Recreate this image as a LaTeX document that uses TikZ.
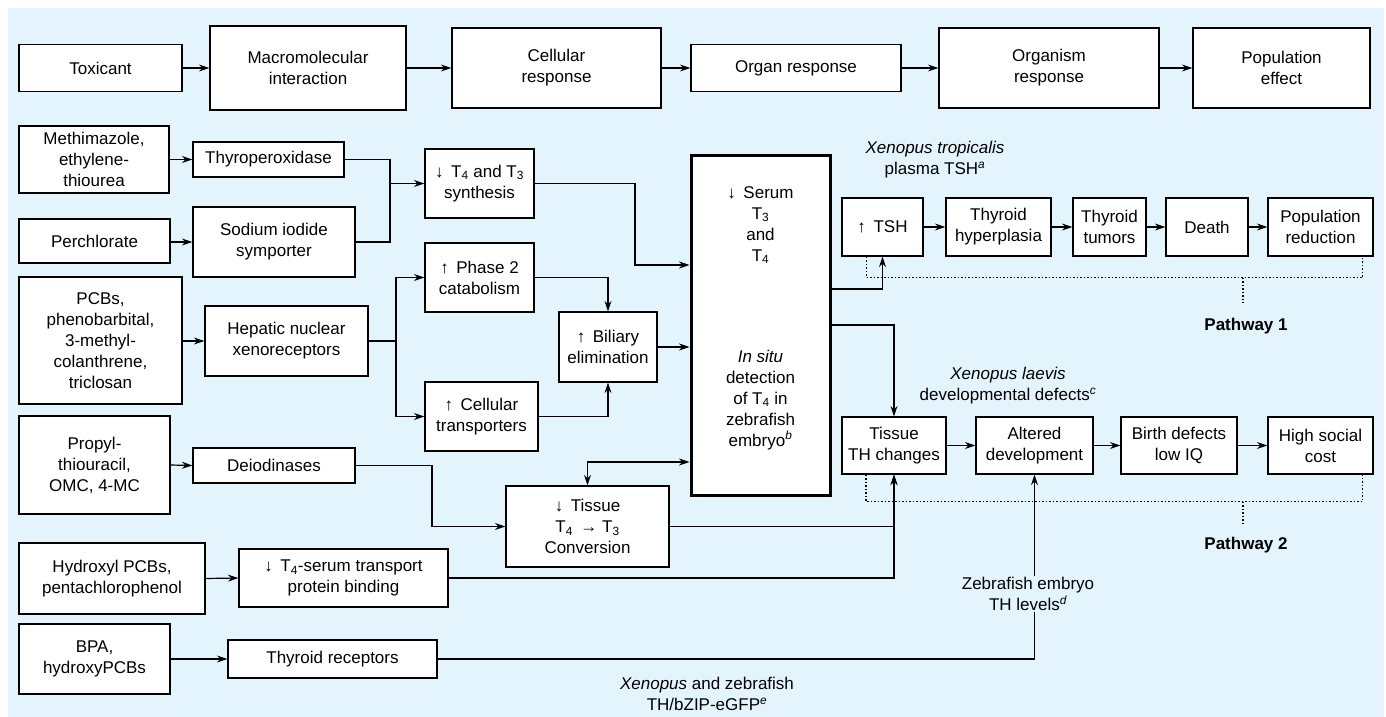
\documentclass[tikz,border=0pt]{standalone}
\usepackage{fontspec}
\setmainfont{Liberation Sans}
\usetikzlibrary{arrows.meta}
\definecolor{bgblue}{HTML}{E4F4FC}
\newcommand{\Tn}[1]{T\textsubscript{#1}}
\newcommand{\supit}[1]{\textsuperscript{\itshape #1}}
\tikzset{
  box/.style={draw, fill=white, line width=1.2pt, align=center, inner sep=1pt, font=\fontsize{17}{21}\selectfont},
  lbl/.style={align=center, inner sep=1pt, font=\fontsize{17}{21}\selectfont},
  ln/.style={line width=1.2pt},
  arr/.style={line width=1.2pt, -{Stealth[length=10.5pt,width=7pt]}},
  arrtwo/.style={line width=1.2pt, {Stealth[length=10.5pt,width=7pt]}-{Stealth[length=10.5pt,width=7pt]}},
  dotbr/.style={line width=1.5pt, dotted}
}
\begin{document}
\begin{tikzpicture}[x=1pt,y=-1pt]
\useasboundingbox (0,0) rectangle (1386,717);
\fill[bgblue] (8,8) rectangle (1384,717);

% general chain
\node[box, minimum width=163pt, minimum height=47pt] (tox) at (100.5,68) {Toxicant};
\node[box, minimum width=196pt, minimum height=84pt] (macro) at (308,68) {Macromolecular\\interaction};
\node[box, minimum width=209pt, minimum height=80pt] (cellr) at (556.5,68) {Cellular\\response};
\node[box, minimum width=210pt, minimum height=47pt] (organ) at (796,68) {Organ response};
\node[box, minimum width=220pt, minimum height=80pt] (orgism) at (1049,68) {Organism\\response};
\node[box, minimum width=177pt, minimum height=80pt] (popeff) at (1281.5,68) {Population\\effect};
\draw[arr] (tox) -- (macro);
\draw[arr] (macro) -- (cellr);
\draw[arr] (cellr) -- (organ);
\draw[arr] (organ) -- (orgism);
\draw[arr] (orgism) -- (popeff);

% toxicants
\node[box, minimum width=150pt, minimum height=67pt] (meth) at (94,159.5) {Methimazole,\\ethylene-\\thiourea};
\node[box, minimum width=151pt, minimum height=44pt] (perch) at (94.5,241) {Perchlorate};
\node[box, minimum width=163pt, minimum height=127pt] (pcb) at (100.5,340.5) {PCBs,\\phenobarbital,\\3-methyl-\\colanthrene,\\triclosan};
\node[box, minimum width=151pt, minimum height=98pt] (propyl) at (94.5,465) {Propyl-\\thiouracil,\\OMC, 4-MC};
\node[box, minimum width=186pt, minimum height=71pt] (hydpcb) at (112,578.5) {Hydroxyl PCBs,\\pentachlorophenol};
\node[box, minimum width=151pt, minimum height=70pt] (bpa) at (94.5,659) {BPA,\\hydroxyPCBs};

% targets
\node[box, minimum width=151pt, minimum height=35pt] (tpo) at (268.5,159.5) {Thyroperoxidase};
\node[box, minimum width=162pt, minimum height=70pt] (nis) at (274,242) {Sodium iodide\\symporter};
\node[box, minimum width=163pt, minimum height=70pt] (hnx) at (286.5,341) {Hepatic nuclear\\xenoreceptors};
\node[box, minimum width=162pt, minimum height=35pt] (deio) at (274,465.5) {Deiodinases};
\node[box, minimum width=209pt, minimum height=58pt] (tsbind) at (343.5,578) {↓\, \Tn{4}-serum transport\\protein binding};
\node[box, minimum width=209pt, minimum height=38pt] (trec) at (332.5,659) {Thyroid receptors};

% effects
\node[box, minimum width=109pt, minimum height=69pt] (synth) at (479.5,183.5) {↓\, \Tn{4} and \Tn{3}\\synthesis};
\node[box, minimum width=109pt, minimum height=69pt] (phase) at (479.5,277.5) {↑\, Phase 2\\catabolism};
\node[box, minimum width=113pt, minimum height=69pt] (ctrans) at (481.5,416.5) {↑\, Cellular\\transporters};
\node[box, minimum width=98pt, minimum height=70pt] (bil) at (608,347) {↑\, Biliary\\elimination};
\node[box, minimum width=163pt, minimum height=81pt] (tissue) at (587.5,526.5) {↓\, Tissue\\\Tn{4}\, → \Tn{3}\\Conversion};
\node[box, line width=3pt, minimum width=139pt, minimum height=340pt] (serum) at (760.5,325) {};
\node[lbl] (serumtxt) at (760.5,318) {↓\, Serum\\\Tn{3}\\and\\\Tn{4}\\[80pt]\textit{In situ}\\detection\\of \Tn{4} in\\zebrafish\\embryo\supit{b}};

\draw[arr] (meth.east) -- (tpo.west);
\draw[arr] (perch.east |- nis.west) -- (nis.west);
\draw[arr] (pcb.east |- hnx.west) -- (hnx.west);
\draw[arr] (propyl.east) -- (deio.west);
\draw[arr] (hydpcb.east) -- (tsbind.west);
\draw[arr] (bpa.east) -- (trec.west |- bpa.east);

\coordinate (j1) at (390,183.5);
\draw[ln] (tpo.east) -| (j1);
\draw[ln] (nis.east) -| (j1);
\draw[arr] (j1) -- (synth.west);
\coordinate (c1) at (635,265);
\draw[arr] (synth.east) -| (c1) -- (serum.west |- c1);

\coordinate (j2) at (396,341);
\draw[ln] (hnx.east) -- (j2);
\draw[arr] (j2) |- (phase.west);
\draw[arr] (j2) |- (ctrans.west);
\draw[arr] (phase.east) -| (bil.north);
\draw[arr] (ctrans.east) -| (bil.south);
\draw[arr] (bil.east) -- (serum.west |- bil.east);

\coordinate (c2) at (432,526.5);
\draw[arr] (deio.east) -| (c2) -- (tissue.west);
\coordinate (c3) at (640,462);
\draw[arrtwo] (serum.west |- c3) -| (tissue.north);

% pathways
\node[box, minimum width=81pt, minimum height=58pt] (tsh) at (882.5,227) {↑\, TSH};
\node[box, minimum width=105pt, minimum height=58pt] (hyper) at (998.5,227) {Thyroid\\hyperplasia};
\node[box, minimum width=73pt, minimum height=58pt] (tumor) at (1109.5,227) {Thyroid\\tumors};
\node[box, minimum width=82pt, minimum height=58pt] (death) at (1207,227) {Death};
\node[box, minimum width=105pt, minimum height=58pt] (popred) at (1320.5,227) {Population\\reduction};
\draw[arr] (tsh) -- (hyper);
\draw[arr] (hyper) -- (tumor);
\draw[arr] (tumor) -- (death);
\draw[arr] (death) -- (popred);

\node[box, minimum width=104pt, minimum height=57pt] (thc) at (894,445.5) {Tissue\\TH changes};
\node[box, minimum width=117pt, minimum height=57pt] (altdev) at (1034.5,445.5) {Altered\\development};
\node[box, minimum width=116pt, minimum height=57pt] (birth) at (1179,445.5) {Birth defects\\low IQ};
\node[box, minimum width=105pt, minimum height=57pt] (social) at (1320.5,445.5) {High social\\cost};
\draw[arr] (thc) -- (altdev);
\draw[arr] (altdev) -- (birth);
\draw[arr] (birth) -- (social);

\draw[arr] ([yshift=36pt]serum.east) -| (tsh.south);
\draw[arr] (serum.east) -| (thc.north);
\draw[arr] (tissue.east) -| (thc.south);
\draw[arr] (tsbind.east) -| (thc.south);

\node[lbl] (xtrop) at (935,160) {\textit{Xenopus tropicalis}\\plasma TSH\supit{a}};
\node[lbl] (xlaev) at (1008,386) {\textit{Xenopus laevis}\\developmental defects\supit{c}};
\node[lbl] (zfl) at (1028,594) {Zebrafish embryo\\TH levels\supit{d}};
\node[lbl] (xzeb) at (707,694) {\textit{Xenopus} and zebrafish\\TH/bZIP-eGFP\supit{e}};
\node[lbl, font=\bfseries\fontsize{17}{21}\selectfont] (pw1) at (1246,326) {Pathway 1};
\node[lbl, font=\bfseries\fontsize{17}{21}\selectfont] (pw2) at (1246,545) {Pathway 2};

\draw[ln] (trec.east) -| (altdev.south |- zfl.south);
\draw[arr] (altdev.south |- zfl.north) -- (altdev.south);

\draw[dotbr] ([xshift=-16pt]tsh.south) -- ++(0,21) coordinate (b1) -| ([xshift=-11pt]popred.south east);
\draw[dotbr] ([xshift=-3pt]pw1.north |- b1) -- ++(0,25);
\draw[dotbr] ([xshift=-28pt]thc.south) -- ++(0,27) coordinate (b2) -| ([xshift=-11pt]social.south east);
\draw[dotbr] ([xshift=-3pt]pw2.north |- b2) -- ++(0,23);
\end{tikzpicture}
\end{document}
